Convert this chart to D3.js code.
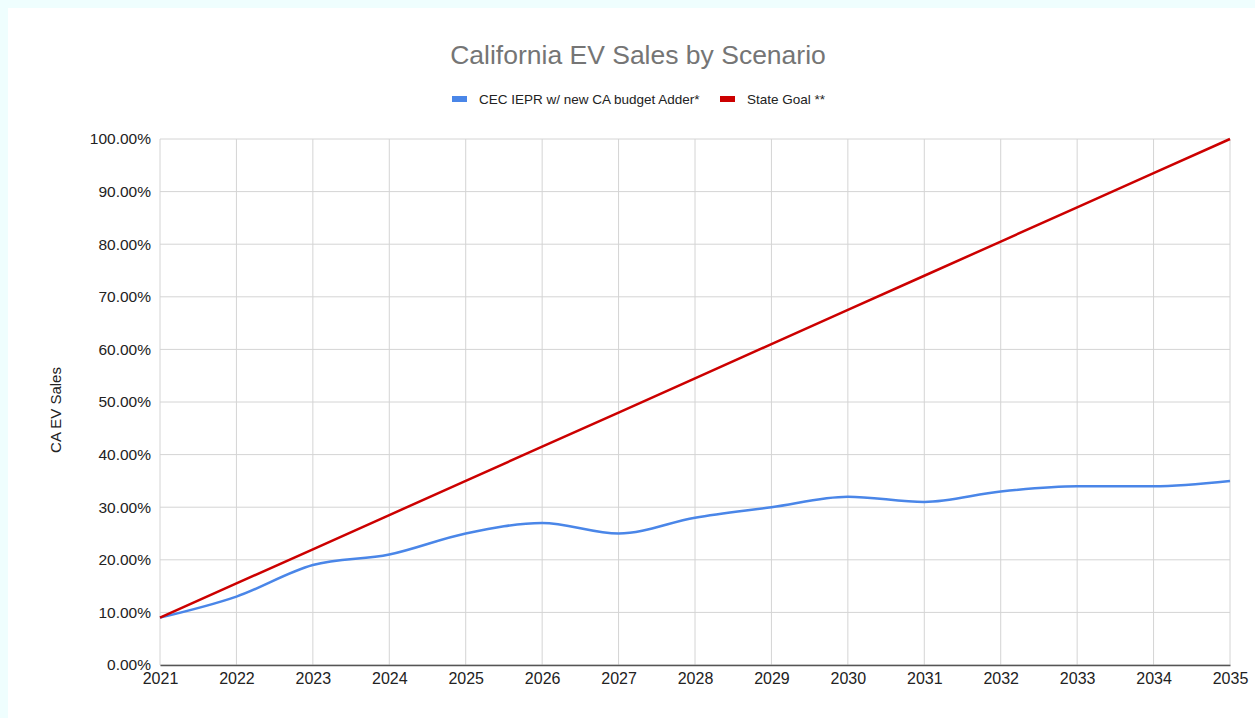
<!DOCTYPE html>
<html><head><meta charset="utf-8">
<script src="https://cdn.jsdelivr.net/npm/d3@7"></script>
<style>
html,body{margin:0;padding:0;background:#effefe;}
svg{display:block;}
</style></head>
<body>
<svg id="c" width="1255" height="718"></svg>
<script>
const years = [2021,2022,2023,2024,2025,2026,2027,2028,2029,2030,2031,2032,2033,2034,2035];
const cecValues = [9,13,19,21,25,27,25,28,30,32,31,33,34,34,35];
const goalValues = [9,15.5,22,28.5,35,41.5,48,54.5,61,67.5,74,80.5,87,93.5,100];
const yTicks = [0,10,20,30,40,50,60,70,80,90,100];
const seriesNames = ["CEC IEPR w/ new CA budget Adder*","State Goal **"];
const seriesColors = ["#4a86e8","#cc0000"];

const svg = d3.select("#c");
svg.append("rect").attr("x",8).attr("y",8).attr("width",1247).attr("height",710).attr("fill","#ffffff");

const L=160,R=1230,T=139,B=665;
const x = d3.scaleLinear().domain([2021,2035]).range([L,R]);
const y = d3.scaleLinear().domain([0,100]).range([B,T]);
const font = "Arial, 'Liberation Sans', sans-serif";

// grid
svg.append("g").selectAll("line").data(yTicks).join("line")
  .attr("x1",L).attr("x2",R).attr("y1",d=>y(d)).attr("y2",d=>y(d))
  .attr("stroke","#d4d4d4").attr("stroke-width",1);
svg.append("g").selectAll("line").data(years).join("line")
  .attr("x1",d=>x(d)).attr("x2",d=>x(d)).attr("y1",T).attr("y2",B)
  .attr("stroke","#d4d4d4").attr("stroke-width",1);

// y axis labels
const yAxis = d3.axisLeft(y).tickValues(yTicks).tickSize(0).tickPadding(9).tickFormat(d=>d.toFixed(2)+"%");
const gy = svg.append("g").attr("transform",`translate(${L},0)`).call(yAxis);
gy.select(".domain").remove();
gy.selectAll("text").attr("font-family",font).attr("font-size",15.5).attr("fill","#222");

// x axis
const xAxis = d3.axisBottom(x).tickValues(years).tickSize(0).tickPadding(8).tickFormat(d3.format("d"));
const gx = svg.append("g").attr("transform",`translate(0,${B})`).call(xAxis);
gx.select(".domain").attr("stroke","#555").attr("stroke-width",1.5);
gx.selectAll("text").attr("font-family",font).attr("font-size",16).attr("fill","#222");

// lines
const lineSmooth = d3.line().x((d,i)=>x(years[i])).y(d=>y(d)).curve(d3.curveMonotoneX);
const lineStraight = d3.line().x((d,i)=>x(years[i])).y(d=>y(d));
svg.append("path").datum(cecValues).attr("d",lineSmooth).attr("fill","none")
  .attr("stroke",seriesColors[0]).attr("stroke-width",2.5);
svg.append("path").datum(goalValues).attr("d",lineStraight).attr("fill","none")
  .attr("stroke",seriesColors[1]).attr("stroke-width",2.5);

// title
svg.append("text").attr("x",638).attr("y",64).attr("text-anchor","middle")
  .attr("font-family",font).attr("font-size",26.5).attr("fill","#757575")
  .text("California EV Sales by Scenario");

// legend
const legX = [452,720];
seriesNames.forEach((n,i)=>{
  svg.append("rect").attr("x",legX[i]).attr("y",96).attr("width",15).attr("height",6).attr("fill",seriesColors[i]);
  svg.append("text").attr("x",legX[i]+27).attr("y",104).attr("font-family",font)
    .attr("font-size",13.5).attr("fill","#222").text(n);
});

// y label
svg.append("text").attr("transform","translate(61,410) rotate(-90)").attr("text-anchor","middle")
  .attr("font-family",font).attr("font-size",15).attr("fill","#222").text("CA EV Sales");
</script>
</body></html>
